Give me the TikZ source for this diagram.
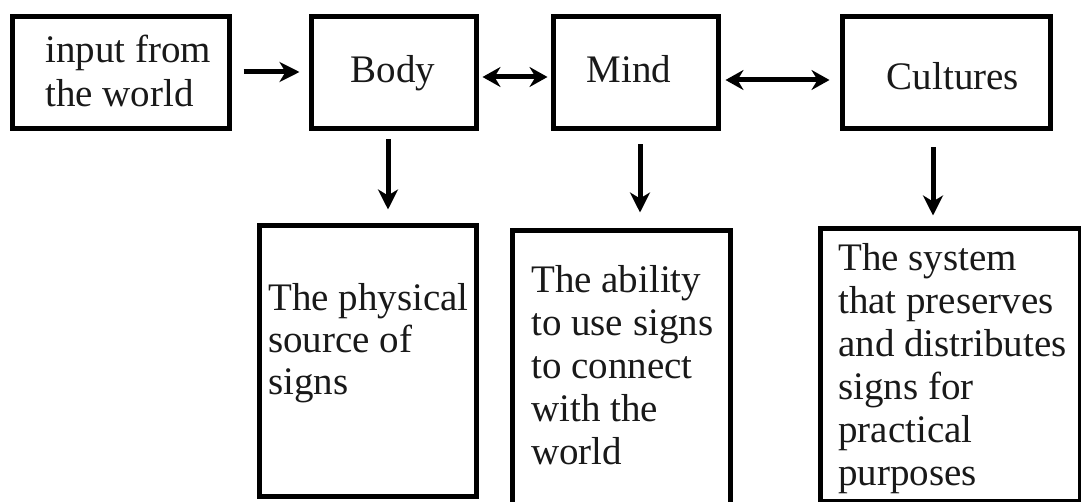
\documentclass[tikz,border=0pt]{standalone}
\usepackage{fontspec}
\setmainfont{Liberation Serif}
\usetikzlibrary{arrows.meta}
\begin{document}
\begin{tikzpicture}[x=1pt,y=-1pt,
  box/.style={draw=black,line width=5pt,inner sep=0pt,fill=white},
  lbl/.style={inner sep=0pt,align=left,font=\fontsize{39}{43}\selectfont,text=black!90},
  arr/.style={line width=5pt,-{Stealth[length=20pt,width=20pt,inset=6pt]}},
  darr/.style={line width=5pt,{Stealth[length=18pt,width=20pt,inset=6pt]}-{Stealth[length=18pt,width=20pt,inset=6pt]}}]
\useasboundingbox (0,0) rectangle (1081,502);
\clip (0,0) rectangle (1081,502);
% top row
\node[box,minimum width=217pt,minimum height=112pt] (inbox) at (121,73) {};
\node[box,minimum width=165pt,minimum height=112pt] (body) at (394,73) {};
\node[box,minimum width=165pt,minimum height=112pt] (mind) at (636,73) {};
\node[box,minimum width=208pt,minimum height=112pt] (cult) at (946.5,73) {};
% lower row
\node[box,minimum width=217pt,minimum height=271pt] (b1) at (368,361) {};
\node[box,minimum width=218pt,minimum height=276pt] (b2) at (621.5,368.5) {};
\node[box,minimum width=260pt,minimum height=273pt] (b3) at (950.5,365) {};
% labels (anchored at the baseline of their last line)
\node[lbl,anchor=base west,font=\fontsize{39}{44}\selectfont] (tin) at (45,107) {input from\\the world};
\node[lbl,anchor=base] (tbody) at (393,83) {Body};
\node[lbl,anchor=base] (tmind) at (629,83) {Mind};
\node[lbl,anchor=base] (tcult) at (953,90) {Cultures};
\node[lbl,anchor=base west,font=\fontsize{39}{42}\selectfont] (t1) at (268,394) {The physical\\source of\\signs};
\node[lbl,anchor=base west] (t2) at (531,464) {The ability\\to use signs\\to connect\\with the\\world};
\node[lbl,anchor=base west] (t3) at (838,485) {The system\\that preserves\\and distributes\\signs for\\practical\\purposes};
% connectors
\draw[arr,shorten <=11.5pt,shorten >=9.5pt] ([yshift=1pt]inbox.east) -- ([yshift=1pt]body.west);
\draw[darr,shorten <=3.5pt,shorten >=3.5pt] ([yshift=-4pt]body.east) -- ([yshift=-4pt]mind.west);
\draw[darr,shorten <=4.5pt,shorten >=10.5pt] ([yshift=-7pt]mind.east) -- ([yshift=-7pt]cult.west);
\draw[arr,shorten <=8pt,shorten >=13.5pt] ([xshift=-6pt]body.south) -- ([xshift=-6pt]body.south |- b1.north);
\draw[arr,shorten <=13pt,shorten >=15.5pt] ([xshift=4pt]mind.south) -- ([xshift=4pt]mind.south |- b2.north);
\draw[arr,shorten <=16pt,shorten >=10.5pt] ([xshift=-13.5pt]cult.south) -- ([xshift=-13.5pt]cult.south |- b3.north);
\end{tikzpicture}
\end{document}
